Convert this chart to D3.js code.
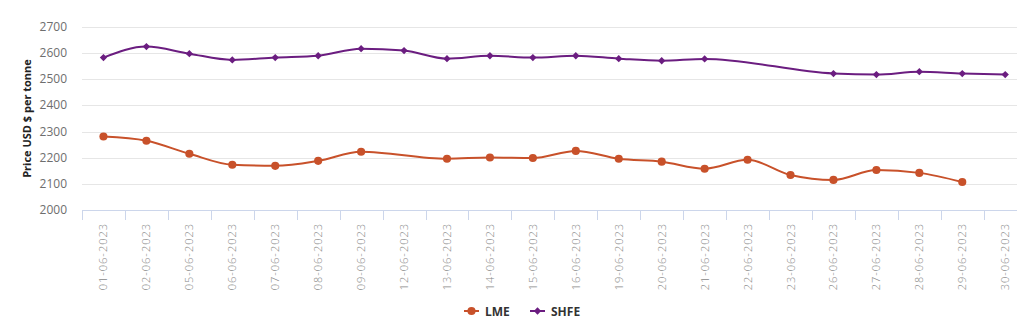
<!DOCTYPE html>
<html>
<head>
<meta charset="utf-8">
<script src="https://cdn.jsdelivr.net/npm/d3@7"></script>
<style>
  body { margin: 0; background: #fff; }
  svg { display: block; font-family: "Open Sans", "DejaVu Sans", sans-serif; }
</style>
</head>
<body>
<div id="chart"></div>
<script>
const dates = ["01-06-2023", "02-06-2023", "05-06-2023", "06-06-2023", "07-06-2023",
  "08-06-2023", "09-06-2023", "12-06-2023", "13-06-2023", "14-06-2023", "15-06-2023",
  "16-06-2023", "19-06-2023", "20-06-2023", "21-06-2023", "22-06-2023", "23-06-2023",
  "26-06-2023", "27-06-2023", "28-06-2023", "29-06-2023", "30-06-2023"];
const lme = [2281, 2265, 2215, 2173, 2169, 2188, 2223, null, 2196, 2201, 2199,
  2226, 2196, 2185, 2158, 2192, 2134, 2115, 2153, 2142, 2107, null];
const shfe = [2583, 2625, 2598, 2574, 2583, 2590, 2617, 2610, 2579, 2590, 2583,
  2590, 2579, 2571, 2578, null, null, 2522, 2518, 2529, 2522, 2518];
const yTicks = [2000, 2100, 2200, 2300, 2400, 2500, 2600, 2700];

const W = 1029, H = 333;
const plotLeft = 82, plotRight = 1017, plotTop = 27, plotBottom = 210;
const step = 42.94;

const svg = d3.select("#chart").append("svg")
    .attr("width", W)
    .attr("height", H);

const x = d3.scaleBand()
    .domain(dates)
    .range([plotLeft, plotLeft + step * dates.length])
    .paddingInner(0).paddingOuter(0);

const y = d3.scaleLinear()
    .domain([2000, 2700])
    .range([plotBottom, plotTop]);

// gridlines
svg.append("g")
    .selectAll("line")
    .data(yTicks.slice(1))
    .enter()
    .append("line")
    .attr("x1", plotLeft)
    .attr("x2", plotRight)
    .attr("y1", d => Math.round(y(d)) + 0.5)
    .attr("y2", d => Math.round(y(d)) + 0.5)
    .attr("stroke", "#e6e6e6");

// y tick labels
svg.append("g")
    .selectAll("text")
    .data(yTicks)
    .enter()
    .append("text")
    .attr("x", 67)
    .attr("y", d => y(d) + 4)
    .attr("text-anchor", "end")
    .style("font-size", "12px")
    .style("fill", "#6e6e6e")
    .text(d => d);

svg.append("text")
    .attr("transform", `translate(31,${(plotTop + plotBottom) / 2}) rotate(-90)`)
    .attr("text-anchor", "middle")
    .style("font-size", "11px")
    .style("font-weight", "bold")
    .style("fill", "#222")
    .text("Price USD $ per tonne");

// x axis
const xAxis = svg.append("g");
xAxis.append("line")
    .attr("x1", plotLeft).attr("x2", plotRight)
    .attr("y1", plotBottom + 0.5).attr("y2", plotBottom + 0.5)
    .attr("stroke", "#ccd6eb");
xAxis.selectAll(".tick")
    .data(dates)
    .enter()
    .append("line")
    .attr("class", "tick")
    .attr("x1", d => Math.round(x(d)) + 0.5)
    .attr("x2", d => Math.round(x(d)) + 0.5)
    .attr("y1", plotBottom)
    .attr("y2", plotBottom + 10)
    .attr("stroke", "#ccd6eb");
xAxis.selectAll("text")
    .data(dates)
    .enter()
    .append("text")
    .attr("transform", d => `translate(${x(d) + x.bandwidth() / 2 + 4},223) rotate(-90)`)
    .attr("text-anchor", "end")
    .style("font-size", "11px")
    .style("font-weight", "300")
    .style("letter-spacing", "1px")
    .style("fill", "#888")
    .text(d => d);

const curve = d3.curveMonotoneX;
const cx = i => x(dates[i]) + x.bandwidth() / 2;

function drawSeries(values, color, shape) {
    const pts = values.map((v, i) => ({ i, v })).filter(d => d.v !== null);
    svg.append("path")
        .datum(pts)
        .attr("fill", "none")
        .attr("stroke", color)
        .attr("stroke-width", 2)
        .attr("d", d3.line().x(d => cx(d.i)).y(d => y(d.v)).curve(curve));
    svg.append("g")
        .selectAll("path")
        .data(pts)
        .enter()
        .append("path")
        .attr("transform", d => `translate(${cx(d.i)},${y(d.v)})`)
        .attr("d", d3.symbol().type(shape).size(shape === d3.symbolCircle ? 52 : 34))
        .attr("fill", color);
}

drawSeries(lme, "#c8512a", d3.symbolCircle);
drawSeries(shfe, "#6b1d80", d3.symbolDiamond2);

// legend
const legend = [
    { name: "LME", color: "#c8512a", shape: d3.symbolCircle, x: 464 },
    { name: "SHFE", color: "#6b1d80", shape: d3.symbolDiamond2, x: 530 }
];
const lg = svg.append("g").selectAll("g")
    .data(legend)
    .enter()
    .append("g")
    .attr("transform", d => `translate(${d.x},311)`);
lg.append("line")
    .attr("x1", 0).attr("x2", 15)
    .attr("stroke", d => d.color)
    .attr("stroke-width", 2);
lg.append("path")
    .attr("transform", "translate(7.5,0)")
    .attr("d", d => d3.symbol().type(d.shape).size(d.shape === d3.symbolCircle ? 52 : 34)())
    .attr("fill", d => d.color);
lg.append("text")
    .attr("x", 21)
    .attr("y", 4.5)
    .style("font-size", "12px")
    .style("font-weight", "bold")
    .style("fill", "#333")
    .text(d => d.name);
</script>
</body>
</html>
